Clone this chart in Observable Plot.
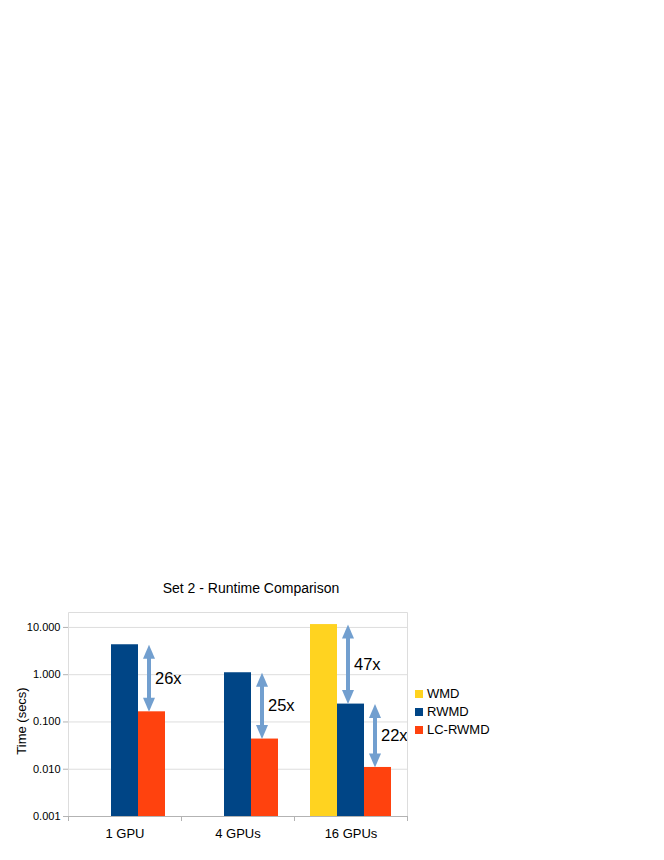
<!DOCTYPE html>
<html><head><meta charset="utf-8">
<script src="https://cdn.jsdelivr.net/npm/d3@7"></script>
<script src="https://cdn.jsdelivr.net/npm/@observablehq/plot@0.6"></script>
<style>
body{margin:0;background:#fff;font-family:"Liberation Sans",Arial,sans-serif;color:#000;}
#wrap{position:relative;width:664px;height:860px;overflow:hidden;}
#wrap svg{position:absolute;left:0;top:0;}
.title{position:absolute;left:0;width:502px;top:580px;line-height:16px;text-align:center;font-size:14px;}
.ylab{position:absolute;left:21px;top:721px;font-size:13px;white-space:nowrap;transform:translate(-50%,-50%) rotate(-90deg);line-height:15px;}
.legend{position:absolute;left:415px;top:685px;font-size:13px;}
.legend .row{display:flex;align-items:center;height:18px;line-height:18px;}
.legend .sw{width:8px;height:8px;margin-right:4px;}
</style></head>
<body>
<div id="wrap">
  <div class="title">Set 2 - Runtime Comparison</div>
  <div class="ylab">Time (secs)</div>
  <div class="legend" id="legend"></div>
</div>
<script>
// ---- data ----
const groups = ["1 GPU", "4 GPUs", "16 GPUs"];
const series = ["WMD", "RWMD", "LC-RWMD"];
const colors = ["#ffd320", "#004586", "#ff420e"];
const wmd    = [null, null, 11.5];
const rwmd   = [4.3, 1.1, 0.239];
const lcrwmd = [0.164, 0.0435, 0.0109];
const yTicks = [0.001, 0.01, 0.1, 1, 10];
const arrowGroups = ["1 GPU", "4 GPUs", "16 GPUs", "16 GPUs"];
const arrowFrom   = ["RWMD", "RWMD", "WMD", "RWMD"];
const arrowTo     = ["LC-RWMD", "LC-RWMD", "RWMD", "LC-RWMD"];
const arrowLabels = ["26x", "25x", "47x", "22x"];

// ---- build tables ----
const valuesBySeries = {"WMD": wmd, "RWMD": rwmd, "LC-RWMD": lcrwmd};
const rows = [];
groups.forEach((g, i) => series.forEach(s => {
  const v = valuesBySeries[s][i];
  if (v != null) rows.push({gpu: g, series: s, value: v});
}));
const val = (g, s) => valuesBySeries[s][groups.indexOf(g)];
const arrows = arrowGroups.map((g, i) => {
  const hi = val(g, arrowFrom[i]), lo = val(g, arrowTo[i]);
  return {gpu: g, col: arrowTo[i], hi, lo, mid: Math.sqrt(hi * lo), label: arrowLabels[i]};
});

const headUp = {draw(ctx) { ctx.moveTo(0, 0); ctx.lineTo(6, 14); ctx.lineTo(-6, 14); ctx.closePath(); }};
const headDown = {draw(ctx) { ctx.moveTo(0, 0); ctx.lineTo(6, -14); ctx.lineTo(-6, -14); ctx.closePath(); }};
const arrowColor = "#729fcf";

const plot = Plot.plot({
  width: 664, height: 860,
  marginTop: 612, marginBottom: 44, marginLeft: 68, marginRight: 257,
  style: {fontFamily: "'Liberation Sans', Arial, sans-serif", fontSize: "11px", background: "transparent", overflow: "visible", color: "#000"},
  fx: {domain: groups, padding: 0, label: null},
  x: {domain: series, paddingInner: 0, paddingOuter: 0.518, axis: null},
  y: {type: "log", domain: [0.001, 20.7], label: null},
  color: {domain: series, range: colors},
  marks: [
    Plot.ruleY(yTicks.slice(1), {stroke: "#dddddd"}),
    Plot.barY(rows, {fx: "gpu", x: "series", y1: 0.001, y2: "value", fill: "series"}),
    Plot.ruleY([0.001], {stroke: "#b3b3b3"}),
    Plot.axisY({ticks: yTicks, tickFormat: d3.format(".3f"), tickSize: 5, tickPadding: 3, fontSize: 11, label: null, stroke: "#b3b3b3", fill: "#000"}),
    Plot.axisFx({anchor: "bottom", tickSize: 0, tickPadding: 12, fontSize: 13, label: null, fill: "#000"}),
    Plot.ruleX(arrows, {fx: "gpu", x: "col", y1: "hi", y2: "lo", stroke: arrowColor, strokeWidth: 4, insetTop: 9, insetBottom: 9, dx: -3}),
    Plot.dot(arrows, {fx: "gpu", x: "col", y: "hi", symbol: headUp, r: 5, fill: arrowColor, stroke: "none", dx: -3}),
    Plot.dot(arrows, {fx: "gpu", x: "col", y: "lo", symbol: headDown, r: 5, fill: arrowColor, stroke: "none", dx: -3}),
    Plot.text(arrows, {fx: "gpu", x: "col", y: "mid", text: "label", textAnchor: "start", dx: 3, fontSize: 16.5, fill: "#000"})
  ]
});
document.getElementById("wrap").appendChild(plot);

// frame borders and category separators, positioned with the plot's own scales
const fxS = plot.scale("fx"), yS = plot.scale("y");
const x0 = Math.min(...fxS.range), x1 = Math.max(...fxS.range);
const yb = yS.apply(0.001), yt = yS.apply(yS.domain[1]);
const g = d3.select(plot).append("g").attr("fill", "none");
const line = (ax, ay, bx, by, c) => g.append("line").attr("x1", ax).attr("y1", ay).attr("x2", bx).attr("y2", by).attr("stroke", c);
line(x0 + 0.5, yt + 0.5, x1 + 0.5, yt + 0.5, "#dddddd");
line(x0 + 0.5, yt + 0.5, x0 + 0.5, yb, "#dddddd");
line(x1 + 0.5, yt + 0.5, x1 + 0.5, yb, "#dddddd");
const bounds = groups.map(d => fxS.apply(d)).concat([x1]);
bounds.forEach(b => line(b + 0.5, yb, b + 0.5, yb + 5, "#b3b3b3"));

// legend
const leg = d3.select("#legend");
series.forEach((s, i) => {
  const r = leg.append("div").attr("class", "row");
  r.append("div").attr("class", "sw").style("background", colors[i]);
  r.append("span").text(s);
});
</script>
</body></html>
